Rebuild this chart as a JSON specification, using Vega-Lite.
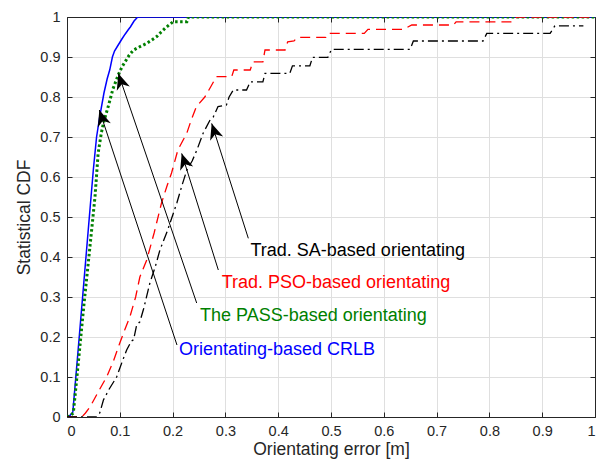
{
  "$schema": "https://vega.github.io/schema/vega-lite/v6.json",
  "width": 528,
  "height": 400,
  "autosize": {"type": "none"},
  "padding": {"left": 67, "top": 17, "right": 18, "bottom": 46},
  "background": "white",
  "config": {
    "view": {"stroke": null},
    "axis": {
      "domainColor": "#262626",
      "tickColor": "#262626",
      "labelColor": "#262626",
      "titleColor": "#262626",
      "gridColor": "#dfdfdf",
      "gridOpacity": 1,
      "labelFont": "Liberation Sans",
      "titleFont": "Liberation Sans",
      "labelFontSize": 14.5,
      "titleFontSize": 17.5,
      "titleFontWeight": "normal",
      "tickSize": -5,
      "labelPadding": 12
    }
  },
  "datasets": {
    "crlb": [
      {"x": 0, "y": 0}, {"x": 0.005, "y": 0.003}, {"x": 0.011, "y": 0.012}, {"x": 0.0206, "y": 0.16},
      {"x": 0.0302, "y": 0.31}, {"x": 0.0404, "y": 0.47}, {"x": 0.05, "y": 0.62}, {"x": 0.056, "y": 0.7},
      {"x": 0.0625, "y": 0.755}, {"x": 0.07, "y": 0.81}, {"x": 0.076, "y": 0.845}, {"x": 0.081, "y": 0.868},
      {"x": 0.086, "y": 0.9}, {"x": 0.09, "y": 0.915}, {"x": 0.097, "y": 0.93}, {"x": 0.104, "y": 0.945},
      {"x": 0.11, "y": 0.957}, {"x": 0.116, "y": 0.968}, {"x": 0.12, "y": 0.975}, {"x": 0.127, "y": 0.99},
      {"x": 0.134, "y": 1}, {"x": 1, "y": 1}
    ],
    "pass": [
      {"x": 0, "y": 0}, {"x": 0.005, "y": 0.002}, {"x": 0.012, "y": 0.01}, {"x": 0.021, "y": 0.13},
      {"x": 0.032, "y": 0.28}, {"x": 0.043, "y": 0.42}, {"x": 0.053, "y": 0.55}, {"x": 0.059, "y": 0.66},
      {"x": 0.065, "y": 0.71}, {"x": 0.07, "y": 0.74}, {"x": 0.078, "y": 0.776}, {"x": 0.087, "y": 0.82},
      {"x": 0.097, "y": 0.855}, {"x": 0.104, "y": 0.875}, {"x": 0.11, "y": 0.888}, {"x": 0.118, "y": 0.905},
      {"x": 0.126, "y": 0.9175}, {"x": 0.14, "y": 0.927}, {"x": 0.151, "y": 0.934}, {"x": 0.16, "y": 0.942},
      {"x": 0.17, "y": 0.951}, {"x": 0.178, "y": 0.962}, {"x": 0.186, "y": 0.972}, {"x": 0.195, "y": 0.982},
      {"x": 0.201, "y": 0.988}, {"x": 0.227, "y": 0.988}, {"x": 0.23, "y": 1}, {"x": 1, "y": 1}
    ],
    "pso": [
      {"x": 0, "y": 0}, {"x": 0.028, "y": 0}, {"x": 0.035, "y": 0.01}, {"x": 0.044, "y": 0.026},
      {"x": 0.06, "y": 0.065}, {"x": 0.075, "y": 0.1}, {"x": 0.088, "y": 0.14}, {"x": 0.1, "y": 0.185},
      {"x": 0.11, "y": 0.22}, {"x": 0.119, "y": 0.25}, {"x": 0.13, "y": 0.3}, {"x": 0.138, "y": 0.35},
      {"x": 0.151, "y": 0.3925}, {"x": 0.165, "y": 0.46}, {"x": 0.179, "y": 0.535}, {"x": 0.19, "y": 0.58},
      {"x": 0.198, "y": 0.61}, {"x": 0.21, "y": 0.6675}, {"x": 0.227, "y": 0.71}, {"x": 0.236, "y": 0.745},
      {"x": 0.245, "y": 0.776}, {"x": 0.261, "y": 0.8}, {"x": 0.272, "y": 0.825}, {"x": 0.283, "y": 0.851},
      {"x": 0.312, "y": 0.851}, {"x": 0.316, "y": 0.8675}, {"x": 0.347, "y": 0.8675}, {"x": 0.352, "y": 0.888},
      {"x": 0.371, "y": 0.888}, {"x": 0.375, "y": 0.9175}, {"x": 0.413, "y": 0.9175}, {"x": 0.418, "y": 0.938},
      {"x": 0.43, "y": 0.94}, {"x": 0.436, "y": 0.949}, {"x": 0.49, "y": 0.949}, {"x": 0.494, "y": 0.959},
      {"x": 0.563, "y": 0.959}, {"x": 0.57, "y": 0.969}, {"x": 0.637, "y": 0.969}, {"x": 0.653, "y": 0.98},
      {"x": 0.732, "y": 0.98}, {"x": 0.737, "y": 0.988}, {"x": 0.843, "y": 0.988}, {"x": 0.852, "y": 1},
      {"x": 1, "y": 1}
    ],
    "sa": [
      {"x": 0, "y": 0}, {"x": 0.056, "y": 0}, {"x": 0.062, "y": 0.01}, {"x": 0.069, "y": 0.0425},
      {"x": 0.08, "y": 0.07}, {"x": 0.094, "y": 0.1}, {"x": 0.105, "y": 0.14}, {"x": 0.113, "y": 0.1675},
      {"x": 0.122, "y": 0.19}, {"x": 0.126, "y": 0.193}, {"x": 0.132, "y": 0.23}, {"x": 0.138, "y": 0.238},
      {"x": 0.145, "y": 0.27}, {"x": 0.157, "y": 0.335}, {"x": 0.167, "y": 0.375}, {"x": 0.176, "y": 0.4175},
      {"x": 0.19, "y": 0.465}, {"x": 0.208, "y": 0.535}, {"x": 0.218, "y": 0.58}, {"x": 0.227, "y": 0.6175},
      {"x": 0.237, "y": 0.64}, {"x": 0.246, "y": 0.6675}, {"x": 0.258, "y": 0.71}, {"x": 0.271, "y": 0.7425},
      {"x": 0.277, "y": 0.75}, {"x": 0.286, "y": 0.776}, {"x": 0.302, "y": 0.78}, {"x": 0.307, "y": 0.8},
      {"x": 0.315, "y": 0.8175}, {"x": 0.34, "y": 0.8175}, {"x": 0.347, "y": 0.838}, {"x": 0.371, "y": 0.838},
      {"x": 0.375, "y": 0.859}, {"x": 0.422, "y": 0.859}, {"x": 0.427, "y": 0.878}, {"x": 0.46, "y": 0.878},
      {"x": 0.465, "y": 0.899}, {"x": 0.494, "y": 0.899}, {"x": 0.501, "y": 0.919}, {"x": 0.65, "y": 0.919},
      {"x": 0.656, "y": 0.94}, {"x": 0.788, "y": 0.94}, {"x": 0.795, "y": 0.959}, {"x": 0.915, "y": 0.959},
      {"x": 0.924, "y": 0.978}, {"x": 0.978, "y": 0.978}
    ],
    "arrows": [
      {"tx": 0.2083, "ty": 0.18, "hx": 0.0612, "hy": 0.7675},
      {"tx": 0.2456, "ty": 0.285, "hx": 0.0972, "hy": 0.859},
      {"tx": 0.2866, "ty": 0.3675, "hx": 0.2172, "hy": 0.659},
      {"tx": 0.3434, "ty": 0.4467, "hx": 0.274, "hy": 0.734}
    ],
    "labels": [
      {"label": "Trad. SA-based orientating", "x": 0.3475, "y": 0.416, "series": "sa"},
      {"label": "Trad. PSO-based orientating", "x": 0.293, "y": 0.334, "series": "pso"},
      {"label": "The PASS-based orientating", "x": 0.2519, "y": 0.2535, "series": "pass"},
      {"label": "Orientating-based CRLB", "x": 0.2121, "y": 0.1675, "series": "crlb"}
    ]
  },
  "resolve": {"axis": {"x": "independent", "y": "independent"}},
  "layer": [
    {
      "data": {"name": "crlb"},
      "mark": {"type": "line", "color": "#0000ff", "strokeWidth": 1.5, "clip": true},
      "encoding": {
        "x": {"field": "x", "type": "quantitative", "scale": {"domain": [0, 1], "nice": false},
          "axis": {"orient": "bottom", "values": [0,0.1,0.2,0.3,0.4,0.5,0.6,0.7,0.8,0.9,1], "format": "~g", "title": "Orientating error [m]", "titlePadding": 3, "grid": true}},
        "y": {"field": "y", "type": "quantitative", "scale": {"domain": [0, 1], "nice": false},
          "axis": {"orient": "left", "values": [0,0.1,0.2,0.3,0.4,0.5,0.6,0.7,0.8,0.9,1], "format": "~g", "title": "Statistical CDF", "titlePadding": 6, "grid": true}},
        "order": {"value": 0}
      }
    },
    {
      "data": {"name": "pass"},
      "mark": {"type": "line", "color": "#008000", "strokeWidth": 3, "strokeDash": [2.5, 2.5], "clip": true},
      "encoding": {
        "x": {"field": "x", "type": "quantitative",
          "axis": {"orient": "top", "values": [0,0.1,0.2,0.3,0.4,0.5,0.6,0.7,0.8,0.9,1], "labels": false, "title": null, "grid": false}},
        "y": {"field": "y", "type": "quantitative",
          "axis": {"orient": "right", "values": [0,0.1,0.2,0.3,0.4,0.5,0.6,0.7,0.8,0.9,1], "labels": false, "title": null, "grid": false}}
      }
    },
    {
      "data": {"name": "pso"},
      "mark": {"type": "line", "color": "#ff0000", "strokeWidth": 1.3, "strokeDash": [10, 6], "clip": true},
      "encoding": {
        "x": {"field": "x", "type": "quantitative", "axis": null},
        "y": {"field": "y", "type": "quantitative", "axis": null}
      }
    },
    {
      "data": {"name": "sa"},
      "mark": {"type": "line", "color": "#000000", "strokeWidth": 1.3, "strokeDash": [10, 4, 2, 4], "clip": true},
      "encoding": {
        "x": {"field": "x", "type": "quantitative", "axis": null},
        "y": {"field": "y", "type": "quantitative", "axis": null}
      }
    },
    {
      "data": {"name": "arrows"},
      "mark": {"type": "rule", "color": "#000000", "strokeWidth": 1},
      "encoding": {
        "x": {"field": "tx", "type": "quantitative", "axis": null},
        "y": {"field": "ty", "type": "quantitative", "axis": null},
        "x2": {"field": "hx"},
        "y2": {"field": "hy"}
      }
    },
    {
      "data": {"name": "arrows"},
      "mark": {"type": "point", "filled": true, "opacity": 1, "color": "#000000", "size": 260, "angle": -18,
        "shape": "M0,0 L0.85,2 L0,1.4 L-0.85,2 Z"},
      "encoding": {
        "x": {"field": "hx", "type": "quantitative", "axis": null},
        "y": {"field": "hy", "type": "quantitative", "axis": null}
      }
    },
    {
      "data": {"name": "labels"},
      "mark": {"type": "text", "align": "left", "baseline": "middle", "font": "Liberation Sans", "fontSize": 18},
      "encoding": {
        "x": {"field": "x", "type": "quantitative", "axis": null},
        "y": {"field": "y", "type": "quantitative", "axis": null},
        "text": {"field": "label"},
        "color": {"field": "series", "type": "nominal", "legend": null,
          "scale": {"domain": ["sa", "pso", "pass", "crlb"], "range": ["#000000", "#ff0000", "#008000", "#0000ff"]}}
      }
    }
  ]
}
